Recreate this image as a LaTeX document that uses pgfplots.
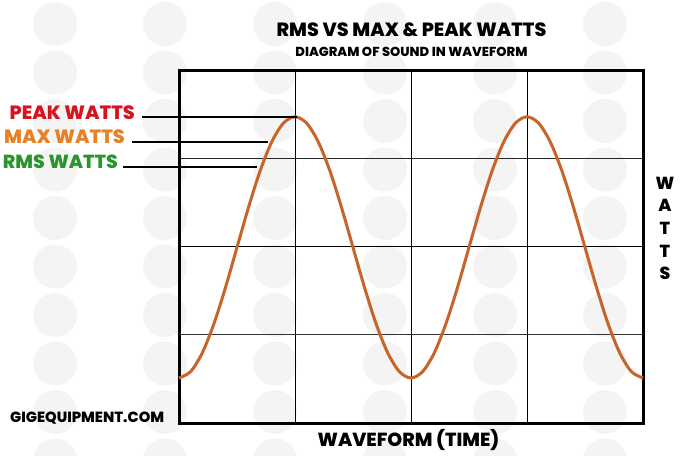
\documentclass[border=0pt]{standalone}
\usepackage{pgfplots}
\pgfplotsset{compat=1.18}
\usepackage{fontspec}
\setmainfont{Poppins}[BoldFont={Poppins ExtraBold}]

\definecolor{wave}{RGB}{200,100,42}
\definecolor{peakc}{RGB}{215,20,30}
\definecolor{maxc}{RGB}{232,128,40}
\definecolor{rmsc}{RGB}{40,150,45}
\definecolor{wmark}{RGB}{244,244,244}

\newcommand{\fs}[1]{\fontsize{#1}{#1}\selectfont\bfseries}

\begin{document}
\begin{tikzpicture}
\useasboundingbox (0,0) rectangle (691bp,-456bp);

% faint watermark circles in the background
\begin{scope}[x=1bp,y=-1bp]
  \foreach \i in {0,...,5}
    \foreach \j in {0,...,9}
      \fill[wmark] (55+110*\i, 24+48.5*\j) circle[radius=22bp];
\end{scope}

\begin{axis}[
    at={(179bp,-423bp)}, anchor=south west,
    scale only axis, width=464bp, height=353bp,
    xmin=0, xmax=4, ymin=0, ymax=4,
    xtick=\empty, ytick=\empty,
    axis line style={line width=3bp},
    clip=false,
  ]
  % grid
  \draw[line width=0.9bp] (axis cs:1,0) -- (axis cs:1,4);
  \draw[line width=0.9bp] (axis cs:2,0) -- (axis cs:2,4);
  \draw[line width=0.9bp] (axis cs:3,0) -- (axis cs:3,4);
  \draw[line width=1bp, black!80] (axis cs:0,1) -- (axis cs:4,1);
  \draw[line width=1.6bp] (axis cs:0,2) -- (axis cs:4,2);
  \draw[line width=1bp, black!85] (axis cs:0,3) -- (axis cs:4,3);

  \addplot[wave, line width=3bp, smooth] coordinates {
    (0.0,0.510) (0.1,0.582) (0.2,0.793) (0.3,1.120) (0.4,1.533) (0.5,1.990)
    (0.6,2.447) (0.7,2.860) (0.8,3.187) (0.9,3.398) (1.0,3.470)
    (1.1,3.398) (1.2,3.187) (1.3,2.860) (1.4,2.447) (1.5,1.990)
    (1.6,1.533) (1.7,1.120) (1.8,0.793) (1.9,0.582) (2.0,0.510)
    (2.1,0.582) (2.2,0.793) (2.3,1.120) (2.4,1.533) (2.5,1.990)
    (2.6,2.447) (2.7,2.860) (2.8,3.187) (2.9,3.398) (3.0,3.470)
    (3.1,3.398) (3.2,3.187) (3.3,2.860) (3.4,2.447) (3.5,1.990)
    (3.6,1.533) (3.7,1.120) (3.8,0.793) (3.9,0.582) (4.0,0.510)
  };
\end{axis}

\begin{scope}[x=1bp,y=-1bp]
  % pointer lines
  \draw[line width=1.6bp] (142,117) -- (297,117);
  \draw[line width=1.6bp] (132,142) -- (268,142);
  \draw[line width=1.6bp] (123,167) -- (257,167);

  \node[anchor=east, inner sep=0, text=peakc] at (135,113) {\fs{19.3}PEAK WATTS};
  \node[anchor=east, inner sep=0, text=maxc] at (125,137) {\fs{19.3}MAX WATTS};
  \node[anchor=east, inner sep=0, text=rmsc] at (118,162) {\fs{19}RMS WATTS};

  \node[inner sep=0] at (411.5,30) {\fs{19.2}RMS VS MAX \& PEAK WATTS};
  \node[inner sep=0] at (411.5,52) {\fs{13.1}DIAGRAM OF SOUND IN WAVEFORM};
  \node[inner sep=0] at (408.5,440) {\fs{19}WAVEFORM (TIME)};
  \node[anchor=west, inner sep=0] at (10,418) {\fs{14.8}GIGEQUIPMENT.COM};

  \foreach \c/\y in {W/183, A/205, T/228, T/251, S/273}
    \node[inner sep=0] at (665,\y) {\fs{17.5}\c};
\end{scope}
\end{tikzpicture}
\end{document}
